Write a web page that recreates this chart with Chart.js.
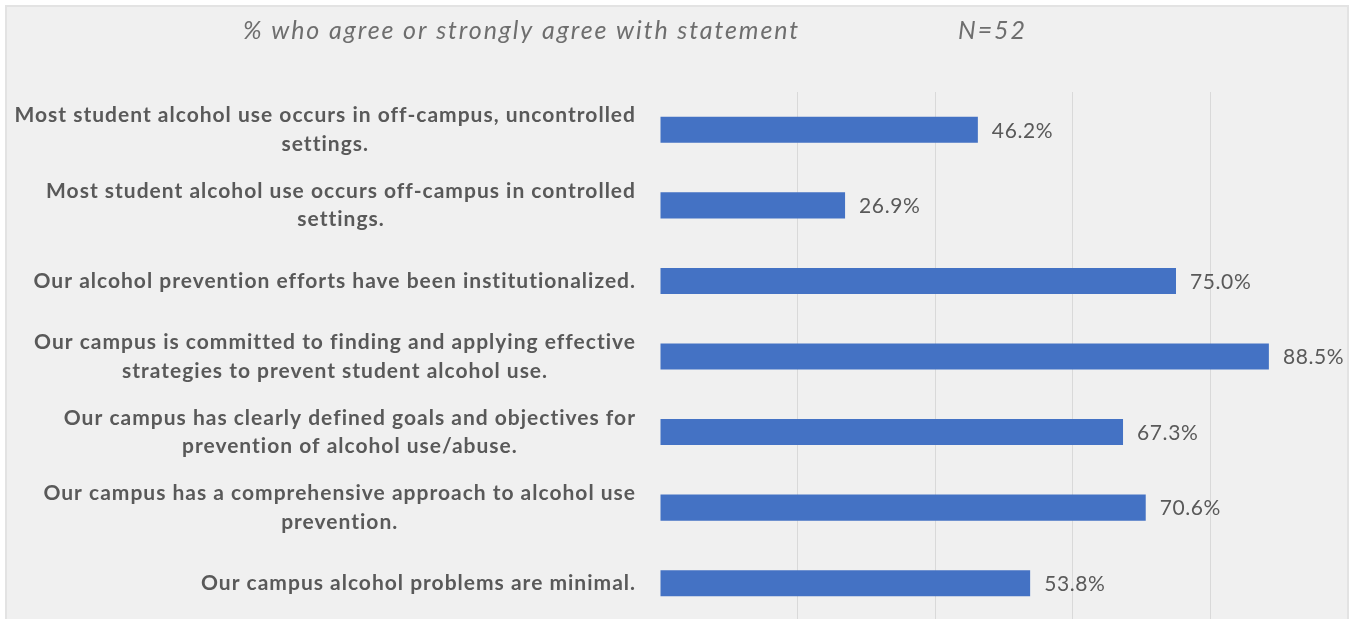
<!DOCTYPE html>
<html>
<head>
<meta charset="utf-8">
<script src="https://cdn.jsdelivr.net/npm/chart.js@4.4.0/dist/chart.umd.min.js"></script>
<style>
  html, body { margin: 0; padding: 0; background: #fff; overflow: hidden; }
  #panel { position: absolute; left: 5px; top: 5px; width: 1340px; height: 630px; background: #f0f0f0; border: 2px solid #e3e3e3; }
  #wrap { position: absolute; left: 0; top: 0; width: 1351px; height: 624px; }
</style>
</head>
<body>
<div id="panel"></div>
<div id="wrap"><canvas id="chart"></canvas></div>
<script>
let titleText = '% who agree or strongly agree with statement';
let sampleText = 'N=52';

let categories = [
  ['Most student alcohol use occurs in off-campus, uncontrolled', 'settings.'],
  ['Most student alcohol use occurs off-campus in controlled', 'settings.'],
  ['Our alcohol prevention efforts have been institutionalized.'],
  ['Our campus is committed to finding and applying effective', 'strategies to prevent student alcohol use.'],
  ['Our campus has clearly defined goals and objectives for', 'prevention of alcohol use/abuse.'],
  ['Our campus has a comprehensive approach to alcohol use', 'prevention.'],
  ['Our campus alcohol problems are minimal.']
];

let agreePct = [46.2, 26.9, 75.0, 88.5, 67.3, 70.6, 53.8];

let xMin = 0;
let xMax = 100;
let xStep = 20;

// Statement text, value labels and the heading line.
let textPlugin = {
  id: 'textPlugin',
  afterDatasetsDraw(chart) {
    let ctx = chart.ctx;
    let yScale = chart.scales.y;
    let area = chart.chartArea;
    ctx.save();

    // Each statement block sits right against the bars, lines centred inside it.
    ctx.font = 'bold 21px Lato';
    ctx.letterSpacing = '1px';
    ctx.fillStyle = '#595959';
    ctx.textAlign = 'center';
    ctx.textBaseline = 'middle';
    categories.forEach((lines, i) => {
      let y = yScale.getPixelForTick(i);
      let widest = Math.max(...lines.map(l => ctx.measureText(l).width));
      let cx = area.left - 24 - widest / 2;
      lines.forEach((line, j) => {
        ctx.fillText(line, cx, y + (j - (lines.length - 1) / 2) * 28.5);
      });
    });

    // Percent at the end of every bar.
    ctx.font = '21px Lato';
    ctx.letterSpacing = '0.6px';
    ctx.textAlign = 'left';
    let meta = chart.getDatasetMeta(0);
    meta.data.forEach((bar, i) => {
      ctx.fillText(agreePct[i].toFixed(1) + '%', bar.x + 14, bar.y + 1);
    });

    // Heading.
    ctx.font = 'italic 25px Lato';
    ctx.letterSpacing = '1.9px';
    ctx.fillStyle = '#6e6e6e';
    ctx.fillText(titleText, 243, 31);
    ctx.fillText(sampleText, 958, 31);
    ctx.restore();
  }
};

let ctx = document.getElementById('chart');
let chart = new Chart(ctx, {
  type: 'bar',
  data: {
    labels: categories,
    datasets: [{
      data: agreePct,
      backgroundColor: '#4472c4',
      borderWidth: 0,
      barPercentage: 0.345,
      categoryPercentage: 1
    }]
  },
  options: {
    indexAxis: 'y',
    responsive: true,
    maintainAspectRatio: false,
    animation: false,
    layout: {padding: {left: 660, top: 92, right: 3, bottom: 3}},
    plugins: {
      legend: {display: false},
      tooltip: {enabled: false}
    },
    scales: {
      x: {
        min: xMin,
        max: xMax,
        ticks: {display: false, stepSize: xStep},
        border: {display: false},
        grid: {
          drawTicks: false,
          lineWidth: 1,
          color: c => (c.tick.value === xMin || c.tick.value === xMax) ? 'rgba(0,0,0,0)' : '#d9d9d9'
        }
      },
      y: {
        display: false
      }
    }
  },
  plugins: [textPlugin]
});
</script>
</body>
</html>
